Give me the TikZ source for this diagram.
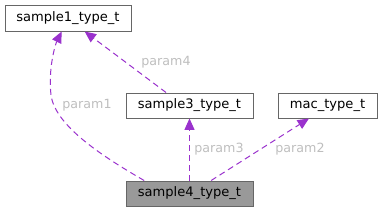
\documentclass[tikz,border=0pt]{standalone}
\usepackage{fontspec}
\setmainfont{DejaVu Sans}
\usetikzlibrary{arrows.meta}
\definecolor{edgepurple}{HTML}{9A32CD}
\definecolor{boxgray}{HTML}{666666}
\definecolor{rootgray}{HTML}{999999}
\definecolor{labelgray}{HTML}{BEBEBE}
\begin{document}
\begin{tikzpicture}[x=0.75pt,y=-0.75pt,
  cls/.style={draw=boxgray,fill=white,line width=0.75pt,inner sep=0pt,minimum height=18.75pt,font=\fontsize{9.8}{12}\selectfont},
  usage/.style={draw=edgepurple,line width=0.75pt,dash pattern=on 4.5pt off 3pt,-{Triangle[length=8.5pt,width=7.5pt,fill=edgepurple]}},
  lbl/.style={text=labelgray,inner sep=0pt,font=\fontsize{9.5}{11}\selectfont}]
\useasboundingbox (0,0) rectangle (382,212);
% classes
\node[cls,minimum width=94.5pt,minimum height=19.5pt] (s1) at (68,18) {sample1\_type\_t};
\node[cls,minimum width=95.25pt] (s3) at (189.5,105.5) {sample3\_type\_t};
\node[cls,minimum width=74.25pt] (mac) at (327.5,105.5) {mac\_type\_t};
\node[cls,fill=rootgray,minimum width=95.25pt] (s4) at (189.5,193.5) {sample4\_type\_t};
% usage relations
\draw[usage] (s4.164) .. controls (100,155) and (55,125) .. (51,95) .. controls (48,70) and (55,45) .. (s1.245);
\draw[usage] (s3.151) -- (s1.321);
\draw[usage] (s4.north) -- (s3.south);
\draw[usage] (s4.31) -- (mac.215);
\node[lbl] (l1) at (87,105) {param1};
\node[lbl] (l4) at (166,62) {param4};
\node[lbl] (l3) at (219,149) {param3};
\node[lbl] (l2) at (300,149) {param2};
\end{tikzpicture}
\end{document}
